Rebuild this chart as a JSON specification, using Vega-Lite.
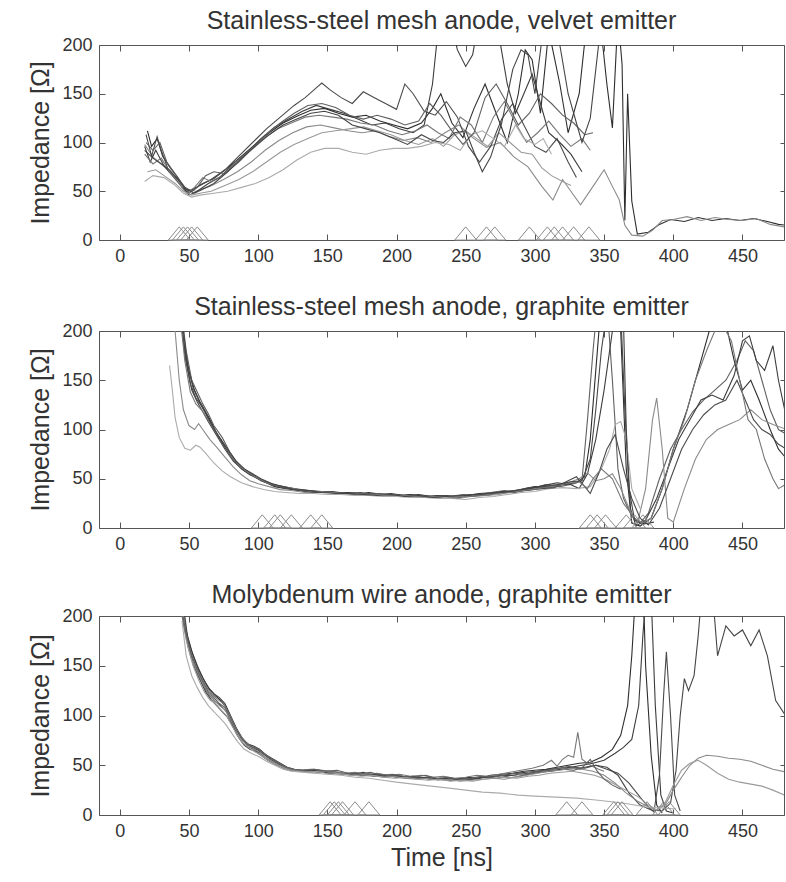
{
  "$schema": "https://vega.github.io/schema/vega-lite/v6.json",
  "background": "white",
  "padding": {"left": 28, "top": 8, "right": 1, "bottom": 2},
  "config": {
    "font": "Liberation Sans",
    "view": {"stroke": "#555555", "strokeWidth": 1},
    "axis": {"grid": false, "domain": false, "ticks": true, "tickSize": -6, "tickWidth": 1, "tickColor": "#555555", "labelFont": "Liberation Sans", "labelFontSize": 18, "labelColor": "#333333", "labelPadding": 13, "titleFont": "Liberation Sans", "titleFontSize": 25, "titleFontWeight": "normal", "titleColor": "#333333"},
    "axisY": {"titlePadding": 8},
    "axisX": {"titlePadding": 5},
    "title": {"font": "Liberation Sans", "fontSize": 25, "fontWeight": "normal", "color": "#333333", "anchor": "middle", "offset": 2},
    "concat": {"spacing": 28}
  },
  "datasets": {
    "p1": [
      {"s":"a","t":20,"v":112},{"s":"a","t":23,"v":96},{"s":"a","t":27,"v":104},{"s":"a","t":31,"v":86},{"s":"a","t":36,"v":75},{"s":"a","t":42,"v":64},{"s":"a","t":48,"v":50},{"s":"a","t":53,"v":52},{"s":"a","t":60,"v":58},{"s":"a","t":68,"v":63},{"s":"a","t":78,"v":74},{"s":"a","t":88,"v":86},{"s":"a","t":98,"v":98},{"s":"a","t":108,"v":110},{"s":"a","t":118,"v":120},{"s":"a","t":128,"v":127},{"s":"a","t":138,"v":133},{"s":"a","t":148,"v":135},{"s":"a","t":158,"v":130},{"s":"a","t":168,"v":126},{"s":"a","t":178,"v":128},{"s":"a","t":188,"v":122},{"s":"a","t":198,"v":118},{"s":"a","t":208,"v":114},{"s":"a","t":218,"v":120},{"s":"a","t":226,"v":135},{"s":"a","t":232,"v":150},{"s":"a","t":240,"v":120},{"s":"a","t":248,"v":105},{"s":"a","t":256,"v":135},{"s":"a","t":264,"v":160},{"s":"a","t":272,"v":130},{"s":"a","t":280,"v":100},{"s":"a","t":288,"v":150},{"s":"a","t":293,"v":195},{"s":"a","t":298,"v":185},{"s":"a","t":304,"v":130},{"s":"a","t":310,"v":215},{"s":"a","t":318,"v":160},{"s":"a","t":324,"v":110},{"s":"a","t":332,"v":150},{"s":"a","t":338,"v":230},{"s":"a","t":346,"v":240},{"s":"a","t":352,"v":160},{"s":"a","t":356,"v":115},{"s":"a","t":360,"v":230},{"s":"a","t":363,"v":180},{"s":"a","t":365,"v":20},{"s":"a","t":367,"v":150},{"s":"a","t":370,"v":40},{"s":"a","t":374,"v":6},{"s":"a","t":382,"v":8},{"s":"a","t":390,"v":16},{"s":"a","t":398,"v":21},{"s":"a","t":408,"v":19},{"s":"a","t":418,"v":23},{"s":"a","t":428,"v":20},{"s":"a","t":438,"v":22},{"s":"a","t":448,"v":20},{"s":"a","t":458,"v":22},{"s":"a","t":468,"v":19},{"s":"a","t":476,"v":16},{"s":"a","t":482,"v":15},
      {"s":"b","t":18,"v":98},{"s":"b","t":24,"v":85},{"s":"b","t":30,"v":78},{"s":"b","t":40,"v":65},{"s":"b","t":48,"v":52},{"s":"b","t":55,"v":50},{"s":"b","t":65,"v":55},{"s":"b","t":75,"v":62},{"s":"b","t":85,"v":70},{"s":"b","t":95,"v":80},{"s":"b","t":105,"v":92},{"s":"b","t":115,"v":102},{"s":"b","t":125,"v":110},{"s":"b","t":135,"v":116},{"s":"b","t":145,"v":118},{"s":"b","t":155,"v":115},{"s":"b","t":165,"v":112},{"s":"b","t":175,"v":110},{"s":"b","t":185,"v":112},{"s":"b","t":195,"v":106},{"s":"b","t":205,"v":102},{"s":"b","t":215,"v":105},{"s":"b","t":225,"v":100},{"s":"b","t":235,"v":110},{"s":"b","t":245,"v":118},{"s":"b","t":255,"v":105},{"s":"b","t":265,"v":95},{"s":"b","t":275,"v":100},{"s":"b","t":285,"v":85},{"s":"b","t":295,"v":75},{"s":"b","t":305,"v":55},{"s":"b","t":313,"v":41},{"s":"b","t":320,"v":62},{"s":"b","t":327,"v":48},{"s":"b","t":333,"v":36},{"s":"b","t":342,"v":55},{"s":"b","t":350,"v":72},{"s":"b","t":356,"v":55},{"s":"b","t":361,"v":41},{"s":"b","t":365,"v":15},{"s":"b","t":370,"v":5},{"s":"b","t":378,"v":4},{"s":"b","t":385,"v":10},{"s":"b","t":392,"v":20},{"s":"b","t":400,"v":21},{"s":"b","t":410,"v":24},{"s":"b","t":420,"v":20},{"s":"b","t":430,"v":23},{"s":"b","t":440,"v":21},{"s":"b","t":450,"v":20},{"s":"b","t":460,"v":22},{"s":"b","t":470,"v":16},{"s":"b","t":482,"v":13},
      {"s":"c","t":19,"v":108},{"s":"c","t":23,"v":86},{"s":"c","t":27,"v":106},{"s":"c","t":30,"v":92},{"s":"c","t":35,"v":72},{"s":"c","t":41,"v":64},{"s":"c","t":47,"v":54},{"s":"c","t":52,"v":50},{"s":"c","t":58,"v":56},{"s":"c","t":66,"v":62},{"s":"c","t":76,"v":72},{"s":"c","t":86,"v":86},{"s":"c","t":96,"v":100},{"s":"c","t":106,"v":114},{"s":"c","t":116,"v":126},{"s":"c","t":126,"v":138},{"s":"c","t":134,"v":146},{"s":"c","t":142,"v":156},{"s":"c","t":146,"v":161},{"s":"c","t":152,"v":154},{"s":"c","t":160,"v":146},{"s":"c","t":168,"v":140},{"s":"c","t":176,"v":152},{"s":"c","t":184,"v":146},{"s":"c","t":192,"v":140},{"s":"c","t":200,"v":134},{"s":"c","t":206,"v":160},{"s":"c","t":212,"v":150},{"s":"c","t":220,"v":132},{"s":"c","t":228,"v":128},{"s":"c","t":236,"v":142},{"s":"c","t":244,"v":126},{"s":"c","t":252,"v":96},{"s":"c","t":260,"v":80},{"s":"c","t":268,"v":96},{"s":"c","t":276,"v":124},{"s":"c","t":284,"v":140},{"s":"c","t":292,"v":118},{"s":"c","t":300,"v":96},{"s":"c","t":308,"v":90},{"s":"c","t":316,"v":104},{"s":"c","t":324,"v":80},{"s":"c","t":330,"v":64},
      {"s":"d","t":18,"v":96},{"s":"d","t":22,"v":80},{"s":"d","t":26,"v":92},{"s":"d","t":32,"v":76},{"s":"d","t":38,"v":66},{"s":"d","t":44,"v":56},{"s":"d","t":50,"v":46},{"s":"d","t":56,"v":50},{"s":"d","t":64,"v":58},{"s":"d","t":72,"v":64},{"s":"d","t":82,"v":78},{"s":"d","t":92,"v":90},{"s":"d","t":102,"v":104},{"s":"d","t":112,"v":116},{"s":"d","t":122,"v":124},{"s":"d","t":132,"v":132},{"s":"d","t":142,"v":138},{"s":"d","t":152,"v":134},{"s":"d","t":162,"v":130},{"s":"d","t":172,"v":124},{"s":"d","t":182,"v":118},{"s":"d","t":192,"v":120},{"s":"d","t":202,"v":114},{"s":"d","t":212,"v":110},{"s":"d","t":220,"v":118},{"s":"d","t":226,"v":160},{"s":"d","t":230,"v":215},{"s":"d","t":238,"v":230},{"s":"d","t":244,"v":195},{"s":"d","t":250,"v":178},{"s":"d","t":255,"v":190},{"s":"d","t":260,"v":230},{"s":"d","t":268,"v":240},{"s":"d","t":274,"v":210},{"s":"d","t":280,"v":160},{"s":"d","t":286,"v":130},{"s":"d","t":292,"v":150},{"s":"d","t":298,"v":170},{"s":"d","t":304,"v":140},{"s":"d","t":310,"v":110},{"s":"d","t":318,"v":100},{"s":"d","t":326,"v":88},{"s":"d","t":334,"v":70},
      {"s":"e","t":18,"v":88},{"s":"e","t":24,"v":78},{"s":"e","t":30,"v":84},{"s":"e","t":36,"v":70},{"s":"e","t":42,"v":60},{"s":"e","t":48,"v":48},{"s":"e","t":54,"v":54},{"s":"e","t":60,"v":64},{"s":"e","t":66,"v":60},{"s":"e","t":74,"v":66},{"s":"e","t":84,"v":80},{"s":"e","t":94,"v":92},{"s":"e","t":104,"v":104},{"s":"e","t":114,"v":114},{"s":"e","t":124,"v":120},{"s":"e","t":134,"v":126},{"s":"e","t":144,"v":128},{"s":"e","t":154,"v":126},{"s":"e","t":164,"v":124},{"s":"e","t":174,"v":120},{"s":"e","t":184,"v":118},{"s":"e","t":194,"v":112},{"s":"e","t":204,"v":108},{"s":"e","t":214,"v":112},{"s":"e","t":222,"v":118},{"s":"e","t":230,"v":110},{"s":"e","t":238,"v":104},{"s":"e","t":246,"v":126},{"s":"e","t":254,"v":118},{"s":"e","t":262,"v":100},{"s":"e","t":270,"v":126},{"s":"e","t":278,"v":142},{"s":"e","t":286,"v":120},{"s":"e","t":294,"v":100},{"s":"e","t":302,"v":110},{"s":"e","t":310,"v":122},{"s":"e","t":318,"v":108},{"s":"e","t":326,"v":96},{"s":"e","t":334,"v":104},{"s":"e","t":340,"v":92},
      {"s":"f","t":20,"v":70},{"s":"f","t":26,"v":72},{"s":"f","t":32,"v":66},{"s":"f","t":40,"v":58},{"s":"f","t":46,"v":50},{"s":"f","t":52,"v":46},{"s":"f","t":58,"v":48},{"s":"f","t":66,"v":50},{"s":"f","t":76,"v":56},{"s":"f","t":86,"v":62},{"s":"f","t":96,"v":70},{"s":"f","t":106,"v":80},{"s":"f","t":116,"v":90},{"s":"f","t":126,"v":98},{"s":"f","t":136,"v":104},{"s":"f","t":146,"v":110},{"s":"f","t":156,"v":112},{"s":"f","t":166,"v":114},{"s":"f","t":176,"v":116},{"s":"f","t":186,"v":112},{"s":"f","t":196,"v":108},{"s":"f","t":206,"v":102},{"s":"f","t":216,"v":98},{"s":"f","t":226,"v":104},{"s":"f","t":234,"v":96},{"s":"f","t":242,"v":108},{"s":"f","t":250,"v":112},{"s":"f","t":258,"v":104},{"s":"f","t":266,"v":96},{"s":"f","t":274,"v":110},{"s":"f","t":282,"v":100},{"s":"f","t":290,"v":90},{"s":"f","t":298,"v":88},{"s":"f","t":305,"v":74},{"s":"f","t":312,"v":66},{"s":"f","t":320,"v":60},{"s":"f","t":326,"v":56},
      {"s":"g","t":18,"v":60},{"s":"g","t":24,"v":66},{"s":"g","t":32,"v":64},{"s":"g","t":40,"v":56},{"s":"g","t":46,"v":48},{"s":"g","t":52,"v":44},{"s":"g","t":58,"v":46},{"s":"g","t":68,"v":48},{"s":"g","t":78,"v":50},{"s":"g","t":88,"v":54},{"s":"g","t":98,"v":58},{"s":"g","t":108,"v":64},{"s":"g","t":118,"v":72},{"s":"g","t":128,"v":82},{"s":"g","t":138,"v":90},{"s":"g","t":148,"v":94},{"s":"g","t":158,"v":94},{"s":"g","t":168,"v":90},{"s":"g","t":178,"v":88},{"s":"g","t":188,"v":92},{"s":"g","t":198,"v":94},{"s":"g","t":208,"v":94},{"s":"g","t":218,"v":96},{"s":"g","t":228,"v":100},{"s":"g","t":238,"v":98},{"s":"g","t":246,"v":92},{"s":"g","t":254,"v":108},{"s":"g","t":262,"v":112},{"s":"g","t":270,"v":104},{"s":"g","t":278,"v":96},{"s":"g","t":286,"v":118},{"s":"g","t":292,"v":104},{"s":"g","t":300,"v":98},{"s":"g","t":306,"v":104},{"s":"g","t":312,"v":88},
      {"s":"h","t":19,"v":100},{"s":"h","t":24,"v":92},{"s":"h","t":29,"v":100},{"s":"h","t":34,"v":80},{"s":"h","t":40,"v":68},{"s":"h","t":46,"v":56},{"s":"h","t":50,"v":48},{"s":"h","t":56,"v":54},{"s":"h","t":62,"v":66},{"s":"h","t":68,"v":70},{"s":"h","t":76,"v":68},{"s":"h","t":86,"v":80},{"s":"h","t":96,"v":94},{"s":"h","t":106,"v":108},{"s":"h","t":116,"v":120},{"s":"h","t":126,"v":130},{"s":"h","t":136,"v":138},{"s":"h","t":146,"v":140},{"s":"h","t":156,"v":136},{"s":"h","t":166,"v":128},{"s":"h","t":176,"v":124},{"s":"h","t":186,"v":128},{"s":"h","t":196,"v":124},{"s":"h","t":206,"v":118},{"s":"h","t":216,"v":122},{"s":"h","t":224,"v":140},{"s":"h","t":232,"v":128},{"s":"h","t":240,"v":112},{"s":"h","t":248,"v":98},{"s":"h","t":256,"v":110},{"s":"h","t":264,"v":146},{"s":"h","t":272,"v":160},{"s":"h","t":280,"v":140},{"s":"h","t":288,"v":118},{"s":"h","t":296,"v":130},{"s":"h","t":304,"v":150},{"s":"h","t":312,"v":140},{"s":"h","t":320,"v":128},{"s":"h","t":328,"v":120},{"s":"h","t":336,"v":108},{"s":"h","t":342,"v":110},
      {"s":"i","t":18,"v":92},{"s":"i","t":24,"v":84},{"s":"i","t":30,"v":78},{"s":"i","t":36,"v":72},{"s":"i","t":42,"v":62},{"s":"i","t":48,"v":52},{"s":"i","t":54,"v":48},{"s":"i","t":60,"v":52},{"s":"i","t":68,"v":58},{"s":"i","t":78,"v":70},{"s":"i","t":88,"v":84},{"s":"i","t":98,"v":96},{"s":"i","t":108,"v":108},{"s":"i","t":118,"v":118},{"s":"i","t":128,"v":124},{"s":"i","t":138,"v":130},{"s":"i","t":148,"v":132},{"s":"i","t":158,"v":128},{"s":"i","t":168,"v":118},{"s":"i","t":178,"v":114},{"s":"i","t":188,"v":110},{"s":"i","t":198,"v":104},{"s":"i","t":208,"v":98},{"s":"i","t":218,"v":108},{"s":"i","t":226,"v":102},{"s":"i","t":234,"v":100},{"s":"i","t":242,"v":110},{"s":"i","t":250,"v":112},{"s":"i","t":256,"v":90},{"s":"i","t":262,"v":70},{"s":"i","t":268,"v":85},{"s":"i","t":276,"v":120},{"s":"i","t":284,"v":175},{"s":"i","t":290,"v":195},{"s":"i","t":295,"v":190},{"s":"i","t":300,"v":150},{"s":"i","t":305,"v":205},{"s":"i","t":312,"v":230},{"s":"i","t":318,"v":200},{"s":"i","t":324,"v":150},{"s":"i","t":330,"v":120},{"s":"i","t":334,"v":100},{"s":"i","t":340,"v":125},{"s":"i","t":346,"v":200},{"s":"i","t":352,"v":240}
    ],
    "p2": [
      {"s":"a","t":44,"v":220},{"s":"a","t":46,"v":190},{"s":"a","t":50,"v":160},{"s":"a","t":54,"v":140},{"s":"a","t":58,"v":128},{"s":"a","t":62,"v":118},{"s":"a","t":66,"v":108},{"s":"a","t":70,"v":96},{"s":"a","t":76,"v":82},{"s":"a","t":82,"v":70},{"s":"a","t":88,"v":60},{"s":"a","t":94,"v":54},{"s":"a","t":100,"v":50},{"s":"a","t":106,"v":46},{"s":"a","t":112,"v":42},{"s":"a","t":120,"v":40},{"s":"a","t":130,"v":38},{"s":"a","t":140,"v":36},{"s":"a","t":150,"v":37},{"s":"a","t":160,"v":35},{"s":"a","t":170,"v":34},{"s":"a","t":180,"v":36},{"s":"a","t":190,"v":34},{"s":"a","t":200,"v":33},{"s":"a","t":210,"v":34},{"s":"a","t":220,"v":32},{"s":"a","t":230,"v":33},{"s":"a","t":240,"v":31},{"s":"a","t":250,"v":33},{"s":"a","t":260,"v":35},{"s":"a","t":270,"v":36},{"s":"a","t":280,"v":37},{"s":"a","t":290,"v":39},{"s":"a","t":300,"v":42},{"s":"a","t":310,"v":41},{"s":"a","t":320,"v":44},{"s":"a","t":330,"v":46},{"s":"a","t":336,"v":52},{"s":"a","t":340,"v":90},{"s":"a","t":344,"v":160},{"s":"a","t":348,"v":230},{"s":"a","t":356,"v":260},{"s":"a","t":362,"v":200},{"s":"a","t":366,"v":60},{"s":"a","t":370,"v":5},{"s":"a","t":376,"v":2},{"s":"a","t":384,"v":10},{"s":"a","t":392,"v":40},{"s":"a","t":400,"v":80},{"s":"a","t":410,"v":120},{"s":"a","t":420,"v":170},{"s":"a","t":428,"v":210},{"s":"a","t":436,"v":220},{"s":"a","t":444,"v":170},{"s":"a","t":450,"v":140},{"s":"a","t":456,"v":150},{"s":"a","t":462,"v":130},{"s":"a","t":470,"v":100},{"s":"a","t":476,"v":80},{"s":"a","t":482,"v":70},
      {"s":"h","t":45,"v":215},{"s":"h","t":48,"v":180},{"s":"h","t":52,"v":150},{"s":"h","t":56,"v":138},{"s":"h","t":60,"v":126},{"s":"h","t":64,"v":116},{"s":"h","t":68,"v":104},{"s":"h","t":74,"v":92},{"s":"h","t":80,"v":76},{"s":"h","t":86,"v":64},{"s":"h","t":92,"v":58},{"s":"h","t":98,"v":52},{"s":"h","t":104,"v":47},{"s":"h","t":110,"v":44},{"s":"h","t":118,"v":41},{"s":"h","t":128,"v":39},{"s":"h","t":138,"v":38},{"s":"h","t":148,"v":36},{"s":"h","t":158,"v":36},{"s":"h","t":168,"v":35},{"s":"h","t":178,"v":34},{"s":"h","t":188,"v":35},{"s":"h","t":198,"v":33},{"s":"h","t":208,"v":32},{"s":"h","t":218,"v":33},{"s":"h","t":228,"v":31},{"s":"h","t":238,"v":32},{"s":"h","t":248,"v":34},{"s":"h","t":258,"v":33},{"s":"h","t":268,"v":36},{"s":"h","t":278,"v":38},{"s":"h","t":288,"v":37},{"s":"h","t":298,"v":40},{"s":"h","t":308,"v":44},{"s":"h","t":318,"v":42},{"s":"h","t":328,"v":45},{"s":"h","t":334,"v":48},{"s":"h","t":338,"v":110},{"s":"h","t":342,"v":180},{"s":"h","t":346,"v":240},{"s":"h","t":352,"v":230},{"s":"h","t":356,"v":150},{"s":"h","t":360,"v":60},{"s":"h","t":364,"v":30},{"s":"h","t":370,"v":12},{"s":"h","t":376,"v":5},{"s":"h","t":382,"v":15},{"s":"h","t":390,"v":50},{"s":"h","t":398,"v":80},{"s":"h","t":406,"v":100},{"s":"h","t":414,"v":118},{"s":"h","t":422,"v":130},{"s":"h","t":430,"v":140},{"s":"h","t":438,"v":150},{"s":"h","t":446,"v":170},{"s":"h","t":452,"v":190},{"s":"h","t":458,"v":180},{"s":"h","t":464,"v":150},{"s":"h","t":470,"v":120},{"s":"h","t":476,"v":100},{"s":"h","t":482,"v":95},
      {"s":"d","t":43,"v":230},{"s":"d","t":47,"v":175},{"s":"d","t":51,"v":146},{"s":"d","t":55,"v":132},{"s":"d","t":59,"v":124},{"s":"d","t":63,"v":114},{"s":"d","t":68,"v":100},{"s":"d","t":73,"v":90},{"s":"d","t":78,"v":78},{"s":"d","t":84,"v":66},{"s":"d","t":90,"v":58},{"s":"d","t":96,"v":54},{"s":"d","t":102,"v":48},{"s":"d","t":110,"v":44},{"s":"d","t":118,"v":42},{"s":"d","t":126,"v":40},{"s":"d","t":136,"v":38},{"s":"d","t":146,"v":37},{"s":"d","t":156,"v":36},{"s":"d","t":166,"v":36},{"s":"d","t":176,"v":35},{"s":"d","t":186,"v":34},{"s":"d","t":196,"v":35},{"s":"d","t":206,"v":33},{"s":"d","t":216,"v":34},{"s":"d","t":226,"v":32},{"s":"d","t":236,"v":33},{"s":"d","t":246,"v":31},{"s":"d","t":256,"v":34},{"s":"d","t":266,"v":33},{"s":"d","t":276,"v":37},{"s":"d","t":286,"v":36},{"s":"d","t":296,"v":40},{"s":"d","t":306,"v":43},{"s":"d","t":316,"v":46},{"s":"d","t":326,"v":44},{"s":"d","t":332,"v":40},{"s":"d","t":338,"v":55},{"s":"d","t":344,"v":90},{"s":"d","t":350,"v":140},{"s":"d","t":356,"v":200},{"s":"d","t":360,"v":230},{"s":"d","t":364,"v":210},{"s":"d","t":366,"v":100},{"s":"d","t":369,"v":20},{"s":"d","t":373,"v":2},{"s":"d","t":380,"v":8},{"s":"d","t":388,"v":30},{"s":"d","t":396,"v":60},{"s":"d","t":404,"v":90},{"s":"d","t":412,"v":110},{"s":"d","t":420,"v":130},{"s":"d","t":428,"v":135},{"s":"d","t":436,"v":130},{"s":"d","t":444,"v":155},{"s":"d","t":450,"v":190},{"s":"d","t":455,"v":195},{"s":"d","t":460,"v":170},{"s":"d","t":466,"v":160},{"s":"d","t":472,"v":185},{"s":"d","t":476,"v":150},{"s":"d","t":482,"v":110},
      {"s":"g","t":36,"v":165},{"s":"g","t":38,"v":140},{"s":"g","t":40,"v":112},{"s":"g","t":43,"v":92},{"s":"g","t":47,"v":81},{"s":"g","t":51,"v":79},{"s":"g","t":55,"v":84},{"s":"g","t":58,"v":82},{"s":"g","t":62,"v":76},{"s":"g","t":68,"v":66},{"s":"g","t":74,"v":58},{"s":"g","t":80,"v":52},{"s":"g","t":88,"v":46},{"s":"g","t":96,"v":42},{"s":"g","t":104,"v":39},{"s":"g","t":112,"v":37},{"s":"g","t":120,"v":36},{"s":"g","t":130,"v":35},{"s":"g","t":140,"v":35},{"s":"g","t":150,"v":34},{"s":"g","t":160,"v":34},{"s":"g","t":170,"v":33},{"s":"g","t":180,"v":33},{"s":"g","t":190,"v":32},{"s":"g","t":200,"v":32},{"s":"g","t":210,"v":31},{"s":"g","t":220,"v":31},{"s":"g","t":230,"v":30},{"s":"g","t":240,"v":30},{"s":"g","t":250,"v":29},{"s":"g","t":260,"v":31},{"s":"g","t":270,"v":32},{"s":"g","t":280,"v":34},{"s":"g","t":290,"v":36},{"s":"g","t":300,"v":37},{"s":"g","t":310,"v":40},{"s":"g","t":320,"v":41},{"s":"g","t":330,"v":40},{"s":"g","t":340,"v":42},{"s":"g","t":348,"v":60},{"s":"g","t":354,"v":80},{"s":"g","t":358,"v":105},{"s":"g","t":362,"v":108},{"s":"g","t":366,"v":90},{"s":"g","t":370,"v":40},{"s":"g","t":376,"v":20},
      {"s":"b","t":40,"v":200},{"s":"b","t":43,"v":150},{"s":"b","t":46,"v":120},{"s":"b","t":50,"v":104},{"s":"b","t":54,"v":100},{"s":"b","t":57,"v":106},{"s":"b","t":60,"v":100},{"s":"b","t":65,"v":90},{"s":"b","t":70,"v":82},{"s":"b","t":76,"v":72},{"s":"b","t":82,"v":62},{"s":"b","t":88,"v":54},{"s":"b","t":94,"v":48},{"s":"b","t":100,"v":45},{"s":"b","t":108,"v":42},{"s":"b","t":116,"v":39},{"s":"b","t":124,"v":38},{"s":"b","t":134,"v":36},{"s":"b","t":144,"v":37},{"s":"b","t":154,"v":36},{"s":"b","t":164,"v":35},{"s":"b","t":174,"v":34},{"s":"b","t":184,"v":34},{"s":"b","t":194,"v":33},{"s":"b","t":204,"v":33},{"s":"b","t":214,"v":32},{"s":"b","t":224,"v":31},{"s":"b","t":234,"v":32},{"s":"b","t":244,"v":30},{"s":"b","t":254,"v":32},{"s":"b","t":264,"v":33},{"s":"b","t":274,"v":34},{"s":"b","t":284,"v":37},{"s":"b","t":294,"v":38},{"s":"b","t":304,"v":40},{"s":"b","t":314,"v":42},{"s":"b","t":324,"v":46},{"s":"b","t":332,"v":50},{"s":"b","t":338,"v":56},{"s":"b","t":344,"v":48},{"s":"b","t":350,"v":50},{"s":"b","t":356,"v":55},{"s":"b","t":362,"v":40},{"s":"b","t":368,"v":20},{"s":"b","t":374,"v":4},{"s":"b","t":380,"v":40},{"s":"b","t":385,"v":110},{"s":"b","t":388,"v":132},{"s":"b","t":392,"v":80},{"s":"b","t":396,"v":10},{"s":"b","t":400,"v":6},{"s":"b","t":408,"v":40},{"s":"b","t":416,"v":70},{"s":"b","t":424,"v":90},{"s":"b","t":432,"v":100},{"s":"b","t":440,"v":105},{"s":"b","t":448,"v":110},{"s":"b","t":456,"v":120},{"s":"b","t":464,"v":110},{"s":"b","t":472,"v":105},{"s":"b","t":482,"v":100},
      {"s":"c","t":45,"v":200},{"s":"c","t":48,"v":170},{"s":"c","t":52,"v":140},{"s":"c","t":56,"v":128},{"s":"c","t":60,"v":118},{"s":"c","t":64,"v":108},{"s":"c","t":70,"v":94},{"s":"c","t":76,"v":80},{"s":"c","t":82,"v":68},{"s":"c","t":88,"v":60},{"s":"c","t":94,"v":55},{"s":"c","t":100,"v":50},{"s":"c","t":108,"v":46},{"s":"c","t":116,"v":42},{"s":"c","t":124,"v":40},{"s":"c","t":134,"v":37},{"s":"c","t":144,"v":36},{"s":"c","t":154,"v":37},{"s":"c","t":164,"v":35},{"s":"c","t":174,"v":36},{"s":"c","t":184,"v":34},{"s":"c","t":194,"v":34},{"s":"c","t":204,"v":33},{"s":"c","t":214,"v":33},{"s":"c","t":224,"v":32},{"s":"c","t":234,"v":33},{"s":"c","t":244,"v":32},{"s":"c","t":254,"v":32},{"s":"c","t":264,"v":34},{"s":"c","t":274,"v":36},{"s":"c","t":284,"v":37},{"s":"c","t":294,"v":38},{"s":"c","t":304,"v":40},{"s":"c","t":314,"v":41},{"s":"c","t":324,"v":48},{"s":"c","t":330,"v":52},{"s":"c","t":336,"v":42},{"s":"c","t":340,"v":35},{"s":"c","t":346,"v":55},{"s":"c","t":352,"v":80},{"s":"c","t":358,"v":95},{"s":"c","t":364,"v":60},{"s":"c","t":370,"v":30},{"s":"c","t":376,"v":10},{"s":"c","t":382,"v":3},{"s":"c","t":390,"v":20},{"s":"c","t":398,"v":50},{"s":"c","t":406,"v":80},{"s":"c","t":414,"v":100},{"s":"c","t":422,"v":115},{"s":"c","t":430,"v":125},{"s":"c","t":438,"v":130},{"s":"c","t":446,"v":150},{"s":"c","t":452,"v":130},{"s":"c","t":458,"v":110},{"s":"c","t":464,"v":100},{"s":"c","t":470,"v":95},{"s":"c","t":476,"v":85},{"s":"c","t":482,"v":80},
      {"s":"e","t":44,"v":210},{"s":"e","t":47,"v":170},{"s":"e","t":51,"v":138},{"s":"e","t":55,"v":126},{"s":"e","t":59,"v":120},{"s":"e","t":64,"v":110},{"s":"e","t":69,"v":98},{"s":"e","t":75,"v":86},{"s":"e","t":81,"v":72},{"s":"e","t":87,"v":62},{"s":"e","t":93,"v":56},{"s":"e","t":99,"v":51},{"s":"e","t":106,"v":46},{"s":"e","t":114,"v":43},{"s":"e","t":122,"v":41},{"s":"e","t":132,"v":38},{"s":"e","t":142,"v":37},{"s":"e","t":152,"v":36},{"s":"e","t":162,"v":35},{"s":"e","t":172,"v":35},{"s":"e","t":182,"v":34},{"s":"e","t":192,"v":34},{"s":"e","t":202,"v":33},{"s":"e","t":212,"v":33},{"s":"e","t":222,"v":32},{"s":"e","t":232,"v":32},{"s":"e","t":242,"v":32},{"s":"e","t":252,"v":32},{"s":"e","t":262,"v":33},{"s":"e","t":272,"v":35},{"s":"e","t":282,"v":36},{"s":"e","t":292,"v":38},{"s":"e","t":302,"v":40},{"s":"e","t":312,"v":43},{"s":"e","t":322,"v":45},{"s":"e","t":332,"v":47},{"s":"e","t":338,"v":40},{"s":"e","t":342,"v":50},{"s":"e","t":348,"v":60},{"s":"e","t":356,"v":50},{"s":"e","t":364,"v":25},{"s":"e","t":372,"v":10},{"s":"e","t":378,"v":5},{"s":"e","t":384,"v":10},{"s":"e","t":392,"v":40},{"s":"e","t":400,"v":80},{"s":"e","t":408,"v":110},{"s":"e","t":416,"v":150},{"s":"e","t":424,"v":180},{"s":"e","t":430,"v":200},{"s":"e","t":436,"v":205},{"s":"e","t":442,"v":190},{"s":"e","t":448,"v":150},{"s":"e","t":454,"v":110},{"s":"e","t":460,"v":100},{"s":"e","t":466,"v":70},{"s":"e","t":472,"v":50},{"s":"e","t":476,"v":40},{"s":"e","t":482,"v":45},
      {"s":"i","t":46,"v":200},{"s":"i","t":49,"v":165},{"s":"i","t":53,"v":142},{"s":"i","t":57,"v":130},{"s":"i","t":61,"v":120},{"s":"i","t":66,"v":106},{"s":"i","t":72,"v":92},{"s":"i","t":78,"v":80},{"s":"i","t":84,"v":68},{"s":"i","t":90,"v":60},{"s":"i","t":96,"v":55},{"s":"i","t":102,"v":50},{"s":"i","t":110,"v":45},{"s":"i","t":118,"v":42},{"s":"i","t":126,"v":39},{"s":"i","t":136,"v":38},{"s":"i","t":146,"v":36},{"s":"i","t":156,"v":35},{"s":"i","t":166,"v":35},{"s":"i","t":176,"v":34},{"s":"i","t":186,"v":33},{"s":"i","t":196,"v":34},{"s":"i","t":206,"v":32},{"s":"i","t":216,"v":33},{"s":"i","t":226,"v":31},{"s":"i","t":236,"v":32},{"s":"i","t":246,"v":33},{"s":"i","t":256,"v":34},{"s":"i","t":266,"v":35},{"s":"i","t":276,"v":36},{"s":"i","t":286,"v":38},{"s":"i","t":296,"v":41},{"s":"i","t":306,"v":42},{"s":"i","t":316,"v":44},{"s":"i","t":326,"v":47},{"s":"i","t":334,"v":48},{"s":"i","t":340,"v":70},{"s":"i","t":344,"v":120},{"s":"i","t":348,"v":180},{"s":"i","t":352,"v":220},{"s":"i","t":358,"v":250},{"s":"i","t":362,"v":220},{"s":"i","t":365,"v":120},{"s":"i","t":368,"v":40},{"s":"i","t":372,"v":8},{"s":"i","t":378,"v":4},{"s":"i","t":386,"v":6}
    ],
    "p3": [
      {"s":"a","t":44,"v":230},{"s":"a","t":46,"v":200},{"s":"a","t":49,"v":178},{"s":"a","t":53,"v":160},{"s":"a","t":57,"v":146},{"s":"a","t":61,"v":135},{"s":"a","t":65,"v":126},{"s":"a","t":69,"v":120},{"s":"a","t":73,"v":115},{"s":"a","t":77,"v":108},{"s":"a","t":81,"v":96},{"s":"a","t":85,"v":85},{"s":"a","t":89,"v":76},{"s":"a","t":93,"v":71},{"s":"a","t":97,"v":69},{"s":"a","t":101,"v":66},{"s":"a","t":106,"v":60},{"s":"a","t":111,"v":56},{"s":"a","t":116,"v":52},{"s":"a","t":121,"v":48},{"s":"a","t":126,"v":46},{"s":"a","t":132,"v":45},{"s":"a","t":140,"v":46},{"s":"a","t":148,"v":44},{"s":"a","t":156,"v":43},{"s":"a","t":164,"v":41},{"s":"a","t":172,"v":42},{"s":"a","t":180,"v":40},{"s":"a","t":188,"v":41},{"s":"a","t":196,"v":39},{"s":"a","t":204,"v":38},{"s":"a","t":212,"v":39},{"s":"a","t":220,"v":37},{"s":"a","t":228,"v":36},{"s":"a","t":236,"v":37},{"s":"a","t":244,"v":36},{"s":"a","t":252,"v":38},{"s":"a","t":260,"v":37},{"s":"a","t":268,"v":40},{"s":"a","t":276,"v":41},{"s":"a","t":284,"v":42},{"s":"a","t":292,"v":44},{"s":"a","t":300,"v":45},{"s":"a","t":308,"v":46},{"s":"a","t":316,"v":48},{"s":"a","t":324,"v":50},{"s":"a","t":332,"v":52},{"s":"a","t":340,"v":53},{"s":"a","t":348,"v":58},{"s":"a","t":356,"v":66},{"s":"a","t":362,"v":80},{"s":"a","t":367,"v":110},{"s":"a","t":370,"v":160},{"s":"a","t":373,"v":230},{"s":"a","t":378,"v":240},{"s":"a","t":380,"v":150},{"s":"a","t":384,"v":60},{"s":"a","t":388,"v":10},{"s":"a","t":392,"v":2},
      {"s":"d","t":45,"v":210},{"s":"d","t":48,"v":185},{"s":"d","t":52,"v":165},{"s":"d","t":56,"v":150},{"s":"d","t":60,"v":138},{"s":"d","t":64,"v":128},{"s":"d","t":68,"v":122},{"s":"d","t":72,"v":118},{"s":"d","t":76,"v":112},{"s":"d","t":80,"v":100},{"s":"d","t":84,"v":88},{"s":"d","t":88,"v":78},{"s":"d","t":92,"v":72},{"s":"d","t":96,"v":68},{"s":"d","t":100,"v":65},{"s":"d","t":105,"v":60},{"s":"d","t":110,"v":55},{"s":"d","t":115,"v":51},{"s":"d","t":120,"v":47},{"s":"d","t":126,"v":45},{"s":"d","t":134,"v":44},{"s":"d","t":142,"v":45},{"s":"d","t":150,"v":42},{"s":"d","t":158,"v":43},{"s":"d","t":166,"v":41},{"s":"d","t":174,"v":40},{"s":"d","t":182,"v":41},{"s":"d","t":190,"v":39},{"s":"d","t":198,"v":40},{"s":"d","t":206,"v":38},{"s":"d","t":214,"v":37},{"s":"d","t":222,"v":38},{"s":"d","t":230,"v":36},{"s":"d","t":238,"v":35},{"s":"d","t":246,"v":37},{"s":"d","t":254,"v":36},{"s":"d","t":262,"v":38},{"s":"d","t":270,"v":39},{"s":"d","t":278,"v":40},{"s":"d","t":286,"v":42},{"s":"d","t":294,"v":43},{"s":"d","t":302,"v":44},{"s":"d","t":310,"v":46},{"s":"d","t":318,"v":47},{"s":"d","t":326,"v":48},{"s":"d","t":334,"v":50},{"s":"d","t":342,"v":52},{"s":"d","t":350,"v":55},{"s":"d","t":358,"v":62},{"s":"d","t":364,"v":68},{"s":"d","t":370,"v":76},{"s":"d","t":375,"v":110},{"s":"d","t":378,"v":180},{"s":"d","t":381,"v":235},{"s":"d","t":384,"v":220},{"s":"d","t":387,"v":110},{"s":"d","t":391,"v":20},{"s":"d","t":395,"v":4},{"s":"d","t":400,"v":2},
      {"s":"c","t":46,"v":200},{"s":"c","t":49,"v":172},{"s":"c","t":53,"v":152},{"s":"c","t":57,"v":140},{"s":"c","t":61,"v":128},{"s":"c","t":65,"v":120},{"s":"c","t":69,"v":114},{"s":"c","t":73,"v":110},{"s":"c","t":77,"v":104},{"s":"c","t":81,"v":92},{"s":"c","t":85,"v":80},{"s":"c","t":89,"v":72},{"s":"c","t":93,"v":68},{"s":"c","t":97,"v":66},{"s":"c","t":101,"v":62},{"s":"c","t":106,"v":57},{"s":"c","t":111,"v":53},{"s":"c","t":116,"v":50},{"s":"c","t":121,"v":46},{"s":"c","t":128,"v":45},{"s":"c","t":136,"v":43},{"s":"c","t":144,"v":44},{"s":"c","t":152,"v":42},{"s":"c","t":160,"v":41},{"s":"c","t":168,"v":42},{"s":"c","t":176,"v":40},{"s":"c","t":184,"v":39},{"s":"c","t":192,"v":40},{"s":"c","t":200,"v":38},{"s":"c","t":208,"v":37},{"s":"c","t":216,"v":38},{"s":"c","t":224,"v":36},{"s":"c","t":232,"v":37},{"s":"c","t":240,"v":35},{"s":"c","t":248,"v":36},{"s":"c","t":256,"v":37},{"s":"c","t":264,"v":38},{"s":"c","t":272,"v":37},{"s":"c","t":280,"v":39},{"s":"c","t":288,"v":41},{"s":"c","t":296,"v":42},{"s":"c","t":304,"v":44},{"s":"c","t":312,"v":45},{"s":"c","t":320,"v":46},{"s":"c","t":328,"v":48},{"s":"c","t":336,"v":47},{"s":"c","t":344,"v":50},{"s":"c","t":352,"v":46},{"s":"c","t":360,"v":42},{"s":"c","t":368,"v":32},{"s":"c","t":376,"v":18},{"s":"c","t":382,"v":8},{"s":"c","t":386,"v":3},{"s":"c","t":390,"v":40},{"s":"c","t":393,"v":120},{"s":"c","t":395,"v":164},{"s":"c","t":398,"v":100},{"s":"c","t":401,"v":20},{"s":"c","t":405,"v":4},
      {"s":"i","t":47,"v":200},{"s":"i","t":50,"v":168},{"s":"i","t":54,"v":148},{"s":"i","t":58,"v":136},{"s":"i","t":62,"v":124},{"s":"i","t":66,"v":116},{"s":"i","t":70,"v":110},{"s":"i","t":74,"v":104},{"s":"i","t":78,"v":98},{"s":"i","t":82,"v":88},{"s":"i","t":86,"v":78},{"s":"i","t":90,"v":70},{"s":"i","t":94,"v":66},{"s":"i","t":98,"v":64},{"s":"i","t":102,"v":60},{"s":"i","t":107,"v":55},{"s":"i","t":112,"v":51},{"s":"i","t":117,"v":48},{"s":"i","t":122,"v":45},{"s":"i","t":128,"v":44},{"s":"i","t":136,"v":45},{"s":"i","t":144,"v":43},{"s":"i","t":152,"v":44},{"s":"i","t":160,"v":42},{"s":"i","t":168,"v":41},{"s":"i","t":176,"v":43},{"s":"i","t":184,"v":40},{"s":"i","t":192,"v":39},{"s":"i","t":200,"v":40},{"s":"i","t":208,"v":38},{"s":"i","t":216,"v":37},{"s":"i","t":224,"v":38},{"s":"i","t":232,"v":36},{"s":"i","t":240,"v":37},{"s":"i","t":248,"v":35},{"s":"i","t":256,"v":36},{"s":"i","t":264,"v":38},{"s":"i","t":272,"v":39},{"s":"i","t":280,"v":40},{"s":"i","t":288,"v":39},{"s":"i","t":296,"v":41},{"s":"i","t":304,"v":43},{"s":"i","t":312,"v":44},{"s":"i","t":320,"v":46},{"s":"i","t":328,"v":45},{"s":"i","t":336,"v":48},{"s":"i","t":344,"v":50},{"s":"i","t":352,"v":48},{"s":"i","t":360,"v":40},{"s":"i","t":368,"v":22},{"s":"i","t":376,"v":10},{"s":"i","t":384,"v":5},{"s":"i","t":392,"v":4},{"s":"i","t":398,"v":12},{"s":"i","t":402,"v":45},{"s":"i","t":405,"v":100},{"s":"i","t":408,"v":137},{"s":"i","t":411,"v":125},{"s":"i","t":415,"v":140},{"s":"i","t":418,"v":180},{"s":"i","t":421,"v":230},{"s":"i","t":428,"v":230},{"s":"i","t":432,"v":160},{"s":"i","t":438,"v":190},{"s":"i","t":444,"v":180},{"s":"i","t":450,"v":186},{"s":"i","t":456,"v":170},{"s":"i","t":462,"v":186},{"s":"i","t":468,"v":160},{"s":"i","t":474,"v":115},{"s":"i","t":482,"v":98},
      {"s":"b","t":45,"v":200},{"s":"b","t":48,"v":176},{"s":"b","t":52,"v":156},{"s":"b","t":56,"v":144},{"s":"b","t":60,"v":132},{"s":"b","t":64,"v":122},{"s":"b","t":68,"v":116},{"s":"b","t":72,"v":110},{"s":"b","t":76,"v":106},{"s":"b","t":80,"v":96},{"s":"b","t":84,"v":86},{"s":"b","t":88,"v":76},{"s":"b","t":92,"v":70},{"s":"b","t":96,"v":67},{"s":"b","t":100,"v":64},{"s":"b","t":105,"v":58},{"s":"b","t":110,"v":54},{"s":"b","t":115,"v":50},{"s":"b","t":120,"v":47},{"s":"b","t":126,"v":45},{"s":"b","t":134,"v":44},{"s":"b","t":142,"v":43},{"s":"b","t":150,"v":44},{"s":"b","t":158,"v":42},{"s":"b","t":166,"v":40},{"s":"b","t":174,"v":41},{"s":"b","t":182,"v":40},{"s":"b","t":190,"v":38},{"s":"b","t":198,"v":39},{"s":"b","t":206,"v":37},{"s":"b","t":214,"v":36},{"s":"b","t":222,"v":37},{"s":"b","t":230,"v":35},{"s":"b","t":238,"v":36},{"s":"b","t":246,"v":34},{"s":"b","t":254,"v":35},{"s":"b","t":262,"v":36},{"s":"b","t":270,"v":37},{"s":"b","t":278,"v":36},{"s":"b","t":286,"v":38},{"s":"b","t":294,"v":40},{"s":"b","t":302,"v":42},{"s":"b","t":310,"v":44},{"s":"b","t":318,"v":45},{"s":"b","t":326,"v":47},{"s":"b","t":334,"v":46},{"s":"b","t":342,"v":44},{"s":"b","t":350,"v":40},{"s":"b","t":358,"v":32},{"s":"b","t":366,"v":22},{"s":"b","t":374,"v":14},{"s":"b","t":382,"v":8},{"s":"b","t":388,"v":5},{"s":"b","t":394,"v":10},{"s":"b","t":400,"v":25},{"s":"b","t":406,"v":38},{"s":"b","t":412,"v":50},{"s":"b","t":418,"v":57},{"s":"b","t":424,"v":60},{"s":"b","t":432,"v":59},{"s":"b","t":440,"v":57},{"s":"b","t":448,"v":56},{"s":"b","t":456,"v":54},{"s":"b","t":464,"v":50},{"s":"b","t":472,"v":46},{"s":"b","t":482,"v":43},
      {"s":"f","t":46,"v":200},{"s":"f","t":49,"v":170},{"s":"f","t":53,"v":150},{"s":"f","t":57,"v":136},{"s":"f","t":61,"v":124},{"s":"f","t":65,"v":116},{"s":"f","t":69,"v":112},{"s":"f","t":73,"v":106},{"s":"f","t":77,"v":100},{"s":"f","t":81,"v":90},{"s":"f","t":85,"v":80},{"s":"f","t":89,"v":72},{"s":"f","t":93,"v":68},{"s":"f","t":97,"v":64},{"s":"f","t":101,"v":61},{"s":"f","t":106,"v":56},{"s":"f","t":111,"v":52},{"s":"f","t":116,"v":49},{"s":"f","t":121,"v":46},{"s":"f","t":127,"v":44},{"s":"f","t":135,"v":43},{"s":"f","t":143,"v":44},{"s":"f","t":151,"v":41},{"s":"f","t":159,"v":42},{"s":"f","t":167,"v":40},{"s":"f","t":175,"v":39},{"s":"f","t":183,"v":40},{"s":"f","t":191,"v":38},{"s":"f","t":199,"v":37},{"s":"f","t":207,"v":38},{"s":"f","t":215,"v":36},{"s":"f","t":223,"v":35},{"s":"f","t":231,"v":36},{"s":"f","t":239,"v":34},{"s":"f","t":247,"v":35},{"s":"f","t":255,"v":34},{"s":"f","t":263,"v":36},{"s":"f","t":271,"v":37},{"s":"f","t":279,"v":38},{"s":"f","t":287,"v":37},{"s":"f","t":295,"v":39},{"s":"f","t":303,"v":40},{"s":"f","t":311,"v":42},{"s":"f","t":319,"v":43},{"s":"f","t":327,"v":44},{"s":"f","t":335,"v":42},{"s":"f","t":343,"v":40},{"s":"f","t":351,"v":36},{"s":"f","t":359,"v":30},{"s":"f","t":367,"v":24},{"s":"f","t":375,"v":18},{"s":"f","t":382,"v":10},{"s":"f","t":388,"v":5},{"s":"f","t":394,"v":12},{"s":"f","t":400,"v":30},{"s":"f","t":406,"v":45},{"s":"f","t":412,"v":52},{"s":"f","t":418,"v":55},{"s":"f","t":424,"v":50},{"s":"f","t":432,"v":42},{"s":"f","t":440,"v":36},{"s":"f","t":448,"v":33},{"s":"f","t":456,"v":31},{"s":"f","t":464,"v":29},{"s":"f","t":472,"v":25},{"s":"f","t":482,"v":19},
      {"s":"g","t":45,"v":195},{"s":"g","t":48,"v":160},{"s":"g","t":52,"v":140},{"s":"g","t":56,"v":128},{"s":"g","t":60,"v":118},{"s":"g","t":64,"v":110},{"s":"g","t":68,"v":104},{"s":"g","t":72,"v":98},{"s":"g","t":76,"v":92},{"s":"g","t":80,"v":84},{"s":"g","t":85,"v":74},{"s":"g","t":90,"v":66},{"s":"g","t":95,"v":62},{"s":"g","t":100,"v":59},{"s":"g","t":106,"v":54},{"s":"g","t":112,"v":50},{"s":"g","t":118,"v":46},{"s":"g","t":124,"v":44},{"s":"g","t":132,"v":43},{"s":"g","t":140,"v":42},{"s":"g","t":150,"v":41},{"s":"g","t":160,"v":40},{"s":"g","t":170,"v":38},{"s":"g","t":180,"v":37},{"s":"g","t":190,"v":35},{"s":"g","t":200,"v":33},{"s":"g","t":212,"v":31},{"s":"g","t":225,"v":29},{"s":"g","t":238,"v":27},{"s":"g","t":250,"v":25},{"s":"g","t":262,"v":23},{"s":"g","t":275,"v":22},{"s":"g","t":288,"v":20},{"s":"g","t":300,"v":19},{"s":"g","t":315,"v":18},{"s":"g","t":330,"v":17},{"s":"g","t":344,"v":15},{"s":"g","t":357,"v":13},{"s":"g","t":368,"v":11},{"s":"g","t":380,"v":8},{"s":"g","t":392,"v":7},{"s":"g","t":402,"v":6},
      {"s":"e","t":44,"v":210},{"s":"e","t":47,"v":185},{"s":"e","t":51,"v":165},{"s":"e","t":55,"v":150},{"s":"e","t":59,"v":138},{"s":"e","t":63,"v":128},{"s":"e","t":67,"v":121},{"s":"e","t":71,"v":116},{"s":"e","t":75,"v":112},{"s":"e","t":79,"v":102},{"s":"e","t":83,"v":90},{"s":"e","t":87,"v":80},{"s":"e","t":91,"v":73},{"s":"e","t":95,"v":69},{"s":"e","t":99,"v":67},{"s":"e","t":104,"v":62},{"s":"e","t":109,"v":57},{"s":"e","t":114,"v":53},{"s":"e","t":119,"v":49},{"s":"e","t":124,"v":46},{"s":"e","t":130,"v":45},{"s":"e","t":138,"v":46},{"s":"e","t":146,"v":45},{"s":"e","t":154,"v":44},{"s":"e","t":162,"v":42},{"s":"e","t":170,"v":43},{"s":"e","t":178,"v":41},{"s":"e","t":186,"v":42},{"s":"e","t":194,"v":40},{"s":"e","t":202,"v":41},{"s":"e","t":210,"v":39},{"s":"e","t":218,"v":40},{"s":"e","t":226,"v":38},{"s":"e","t":234,"v":39},{"s":"e","t":242,"v":37},{"s":"e","t":250,"v":38},{"s":"e","t":258,"v":40},{"s":"e","t":266,"v":39},{"s":"e","t":274,"v":41},{"s":"e","t":282,"v":43},{"s":"e","t":290,"v":45},{"s":"e","t":298,"v":47},{"s":"e","t":306,"v":50},{"s":"e","t":312,"v":55},{"s":"e","t":316,"v":49},{"s":"e","t":320,"v":56},{"s":"e","t":324,"v":60},{"s":"e","t":328,"v":58},{"s":"e","t":331,"v":83},{"s":"e","t":334,"v":56},{"s":"e","t":340,"v":50},{"s":"e","t":346,"v":46},{"s":"e","t":350,"v":44},
      {"s":"h","t":45,"v":205},{"s":"h","t":48,"v":182},{"s":"h","t":52,"v":160},{"s":"h","t":56,"v":146},{"s":"h","t":60,"v":134},{"s":"h","t":64,"v":124},{"s":"h","t":68,"v":118},{"s":"h","t":72,"v":112},{"s":"h","t":76,"v":108},{"s":"h","t":80,"v":98},{"s":"h","t":84,"v":86},{"s":"h","t":88,"v":77},{"s":"h","t":92,"v":71},{"s":"h","t":96,"v":68},{"s":"h","t":100,"v":66},{"s":"h","t":105,"v":61},{"s":"h","t":110,"v":56},{"s":"h","t":115,"v":52},{"s":"h","t":120,"v":48},{"s":"h","t":126,"v":46},{"s":"h","t":133,"v":45},{"s":"h","t":141,"v":46},{"s":"h","t":149,"v":44},{"s":"h","t":157,"v":45},{"s":"h","t":165,"v":42},{"s":"h","t":173,"v":41},{"s":"h","t":181,"v":43},{"s":"h","t":189,"v":40},{"s":"h","t":197,"v":41},{"s":"h","t":205,"v":39},{"s":"h","t":213,"v":38},{"s":"h","t":221,"v":40},{"s":"h","t":229,"v":37},{"s":"h","t":237,"v":38},{"s":"h","t":245,"v":36},{"s":"h","t":253,"v":37},{"s":"h","t":261,"v":39},{"s":"h","t":269,"v":38},{"s":"h","t":277,"v":40},{"s":"h","t":285,"v":42},{"s":"h","t":293,"v":41},{"s":"h","t":301,"v":44},{"s":"h","t":309,"v":45},{"s":"h","t":317,"v":47},{"s":"h","t":325,"v":49},{"s":"h","t":333,"v":46},{"s":"h","t":340,"v":56},{"s":"h","t":345,"v":44},{"s":"h","t":350,"v":36},{"s":"h","t":356,"v":30},{"s":"h","t":362,"v":26}
    ],
    "tri1": [{"t":43},{"t":46},{"t":49},{"t":52},{"t":56},{"t":250},{"t":265},{"t":271},{"t":296},{"t":309},{"t":314},{"t":320},{"t":328},{"t":339}],
    "tri2": [{"t":103},{"t":112},{"t":116},{"t":124},{"t":138},{"t":146},{"t":340},{"t":345},{"t":351},{"t":366},{"t":372},{"t":378}],
    "tri3": [{"t":152},{"t":155},{"t":158},{"t":161},{"t":170},{"t":180},{"t":323},{"t":334},{"t":357},{"t":360},{"t":363},{"t":381},{"t":393},{"t":397}]
  },
  "vconcat": [
    {
      "title": "Stainless-steel mesh anode, velvet emitter",
      "width": 685, "height": 195,
      "layer": [
        {
          "data": {"name": "p1"},
          "mark": {"type": "line", "clip": true, "strokeWidth": 1.1},
          "encoding": {
            "x": {"field": "t", "type": "quantitative", "scale": {"domain": [-15, 480], "nice": false, "zero": false}, "axis": {"orient": "bottom", "values": [0,50,100,150,200,250,300,350,400,450], "title": null}},
            "y": {"field": "v", "type": "quantitative", "scale": {"domain": [0, 200], "nice": false}, "axis": {"orient": "left", "values": [0,50,100,150,200], "title": "Impedance [Ω]"}},
            "color": {"field": "s", "type": "nominal", "legend": null, "scale": {"domain": ["a","b","c","d","e","f","g","h","i"], "range": ["#2e2e2e","#8a8a8a","#4a4a4a","#3c3c3c","#777777","#9a9a9a","#ababab","#606060","#454545"]}}
          }
        },
        {
          "data": {"name": "tri1"},
          "mark": {"type": "point", "shape": "M0,-0.6L-1,0.6L1,0.6Z", "size": 484, "filled": false, "stroke": "#8c8c8c", "strokeWidth": 1, "opacity": 1},
          "encoding": {
            "x": {"field": "t", "type": "quantitative", "axis": {"orient": "top", "labels": false, "title": null, "values": [0,50,100,150,200,250,300,350,400,450]}},
            "y": {"datum": 6.7, "type": "quantitative", "axis": {"orient": "right", "labels": false, "title": null, "tickSize": -4, "values": [0,50,100,150,200]}}
          }
        }
      ]
    },
    {
      "title": "Stainless-steel mesh anode, graphite emitter",
      "width": 685, "height": 197,
      "layer": [
        {
          "data": {"name": "p2"},
          "mark": {"type": "line", "clip": true, "strokeWidth": 1.1},
          "encoding": {
            "x": {"field": "t", "type": "quantitative", "scale": {"domain": [-15, 480], "nice": false, "zero": false}, "axis": {"orient": "bottom", "values": [0,50,100,150,200,250,300,350,400,450], "title": null}},
            "y": {"field": "v", "type": "quantitative", "scale": {"domain": [0, 200], "nice": false}, "axis": {"orient": "left", "values": [0,50,100,150,200], "title": "Impedance [Ω]"}},
            "color": {"field": "s", "type": "nominal", "legend": null, "scale": {"domain": ["a","b","c","d","e","f","g","h","i"], "range": ["#2e2e2e","#8a8a8a","#4a4a4a","#3c3c3c","#777777","#9a9a9a","#ababab","#606060","#454545"]}}
          }
        },
        {
          "data": {"name": "tri2"},
          "mark": {"type": "point", "shape": "M0,-0.6L-1,0.6L1,0.6Z", "size": 484, "filled": false, "stroke": "#8c8c8c", "strokeWidth": 1, "opacity": 1},
          "encoding": {
            "x": {"field": "t", "type": "quantitative", "axis": {"orient": "top", "labels": false, "title": null, "values": [0,50,100,150,200,250,300,350,400,450]}},
            "y": {"datum": 6.7, "type": "quantitative", "axis": {"orient": "right", "labels": false, "title": null, "tickSize": -4, "values": [0,50,100,150,200]}}
          }
        }
      ]
    },
    {
      "title": {"text": "Molybdenum wire anode, graphite emitter", "offset": -1},
      "width": 685, "height": 199,
      "layer": [
        {
          "data": {"name": "p3"},
          "mark": {"type": "line", "clip": true, "strokeWidth": 1.1},
          "encoding": {
            "x": {"field": "t", "type": "quantitative", "scale": {"domain": [-15, 480], "nice": false, "zero": false}, "axis": {"orient": "bottom", "values": [0,50,100,150,200,250,300,350,400,450], "title": "Time [ns]"}},
            "y": {"field": "v", "type": "quantitative", "scale": {"domain": [0, 200], "nice": false}, "axis": {"orient": "left", "values": [0,50,100,150,200], "title": "Impedance [Ω]"}},
            "color": {"field": "s", "type": "nominal", "legend": null, "scale": {"domain": ["a","b","c","d","e","f","g","h","i"], "range": ["#2e2e2e","#8a8a8a","#4a4a4a","#3c3c3c","#777777","#9a9a9a","#ababab","#606060","#454545"]}}
          }
        },
        {
          "data": {"name": "tri3"},
          "mark": {"type": "point", "shape": "M0,-0.6L-1,0.6L1,0.6Z", "size": 484, "filled": false, "stroke": "#8c8c8c", "strokeWidth": 1, "opacity": 1},
          "encoding": {
            "x": {"field": "t", "type": "quantitative", "axis": {"orient": "top", "labels": false, "title": null, "values": [0,50,100,150,200,250,300,350,400,450]}},
            "y": {"datum": 6.7, "type": "quantitative", "axis": {"orient": "right", "labels": false, "title": null, "tickSize": -4, "values": [0,50,100,150,200]}}
          }
        }
      ]
    }
  ]
}
